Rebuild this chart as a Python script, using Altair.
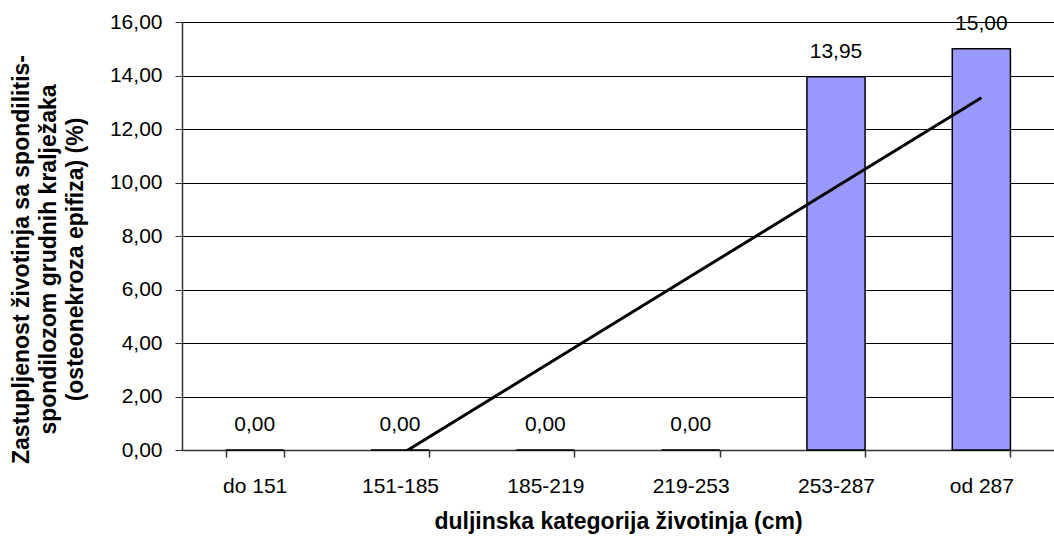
import altair as alt
import pandas as pd
import numpy as np

categories = ["do 151", "151-185", "185-219", "219-253", "253-287", "od 287"]
values = [0.00, 0.00, 0.00, 0.00, 13.95, 15.00]

idx = np.arange(1, len(categories) + 1)
slope, intercept = np.polyfit(idx, values, 1)
trend = slope * idx + intercept

df = pd.DataFrame({"cat": categories, "val": values, "trend": trend})

FONT = "Liberation Sans"
LBL = 21
TTL = 23

x = alt.X("cat:N", sort=categories, title="duljinska kategorija životinja (cm)",
          scale=alt.Scale(paddingInner=0.6, paddingOuter=0.3),
          axis=alt.Axis(labelAngle=0, labelFontSize=LBL, labelFont=FONT, labelColor="black",
                        labelPadding=18, titleFont=FONT, titleFontSize=TTL, titleFontWeight="bold",
                        titleColor="black", titlePadding=14, domainColor="#333333", domainWidth=1.5,
                        tickColor="#333333", tickWidth=1.5,
                        tickBand="extent", tickSize=7, grid=False))

y_axis = alt.Axis(values=[0, 2, 4, 6, 8, 10, 12, 14, 16],
                  labelExpr="replace(format(datum.value, '.2f'), '.', ',')",
                  labelFontSize=LBL, labelFont=FONT, labelColor="black", labelPadding=13,
                  tickSize=7, tickColor="#333333", domainColor="#333333", domainWidth=1.5,
                  gridColor="black", gridWidth=1,
                  title=["Zastupljenost životinja sa spondilitis-",
                         "spondilozom grudnih kralježaka",
                         "(osteonekroza epifiza) (%)"],
                  titleFont=FONT, titleFontSize=TTL, titleFontWeight="bold", titleColor="black",
                  titleX=-161, titleY=237, titleAngle=-90, titleBaseline="middle",
                  titleAlign="center", titleLineHeight=27)

base = alt.Chart(df)

bars = base.mark_bar(color="#9999FF", stroke="black", strokeWidth=1.5).encode(
    x=x,
    y=alt.Y("val:Q", scale=alt.Scale(domain=[0, 16]), axis=y_axis),
)

labels = base.transform_calculate(
    lab="replace(format(datum.val, '.2f'), '.', ',')"
).mark_text(font=FONT, fontSize=LBL, color="black", baseline="middle", dy=-25).encode(
    x=alt.X("cat:N", sort=categories),
    y=alt.Y("val:Q"),
    text="lab:N",
)

line = base.mark_line(color="black", strokeWidth=3, clip=True).encode(
    x=alt.X("cat:N", sort=categories),
    y=alt.Y("trend:Q"),
)

chart = alt.layer(bars, line, labels).properties(
    width=872, height=428,
    autosize=alt.AutoSizeParams(type="none"),
    padding={"left": 182, "top": 22, "right": 0, "bottom": 88},
).configure_view(stroke=None).configure(background="white")

chart.save("out.html", embed_options={"renderer": "svg", "actions": False})
